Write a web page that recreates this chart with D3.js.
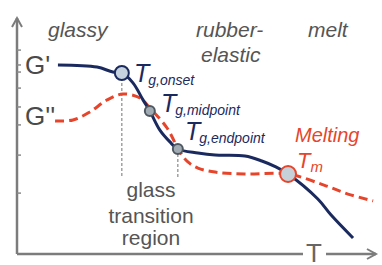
<!DOCTYPE html>
<html>
<head>
<meta charset="utf-8">
<script src="https://cdn.jsdelivr.net/npm/d3@7"></script>
<style>
  body { margin: 0; background: #fff; }
  svg { display: block; font-family: "Liberation Sans", Arial, sans-serif; }
</style>
</head>
<body>
<div id="chart"></div>
<script>
(() => {
    // storage modulus G' (temperature, log modulus), arbitrary units 0-100
    const gPrimeT = [11.4, 22.3, 26.7, 29.2, 32.3, 35.1, 37.0, 39.8, 42.6, 44.8, 50.4, 55.2, 63.5, 68.2, 72.1, 75.5, 83.8, 87.5, 93.6];
    const gPrimeV = [80.1, 79.2, 77.1, 76.7, 72.5, 65.3, 60.6, 52.5, 47.5, 44.5, 42.8, 41.9, 41.5, 39.4, 36.9, 33.9, 23.3, 16.5, 6.8];
    // loss modulus G''
    const gDblT = [10.6, 15.6, 20.3, 25.1, 29.5, 34.3, 37.0, 41.8, 45.4, 47.6, 50.4, 55.2, 63.5, 75.5, 85.5, 92.2, 99.2];
    const gDblV = [56.4, 56.8, 60.2, 65.3, 67.8, 66.1, 61.9, 53.4, 43.2, 39.0, 36.4, 34.7, 33.9, 33.9, 29.2, 25.4, 22.5];
    // characteristic points
    const markNames = ["onset", "midpoint", "endpoint", "m"];
    const markT = [29.2, 37.0, 44.8, 75.5];
    const markV = [76.7, 60.6, 44.5, 33.9];
    // y axis tick marks
    const yTicks = [86.4, 80.1, 77.1, 70.3, 62.3, 54.7, 41.9, 25.8];
    const regions = ["glassy", "rubber-", "elastic", "melt"];

    const width = 382;
    const height = 265;
    const navy = "#1b2a5e";
    const red = "#e6452b";
    const grey = "#7c7c7c";

    const svg = d3.select("#chart").append("svg")
        .attr("width", width)
        .attr("height", height);

    const x = d3.scaleLinear().domain([0, 100]).range([17, 376]);
    const y = d3.scaleLinear().domain([0, 100]).range([254, 18]);

    /******************** axes ********************/
    svg.append("line")
        .attr("x1", x(0)).attr("y1", y(0))
        .attr("x2", x(0)).attr("y2", y(100))
        .attr("stroke", grey).attr("stroke-width", 2.5);
    svg.append("path")
        .attr("d", `M${x(0) - 5},${y(100) + 9}L${x(0)},${y(100)}L${x(0) + 5},${y(100) + 9}`)
        .attr("fill", "none").attr("stroke", grey).attr("stroke-width", 2);

    svg.append("line")
        .attr("x1", x(0)).attr("y1", y(0))
        .attr("x2", x(100)).attr("y2", y(0))
        .attr("stroke", grey).attr("stroke-width", 2.5);
    svg.append("path")
        .attr("d", `M${x(100) - 9},${y(0) - 5}L${x(100)},${y(0)}L${x(100) - 9},${y(0) + 5}`)
        .attr("fill", "none").attr("stroke", grey).attr("stroke-width", 2);

    svg.selectAll(".ytick")
        .data(yTicks)
        .join("line")
        .attr("class", "ytick")
        .attr("x1", x(0)).attr("x2", x(0) + 4)
        .attr("y1", d => y(d)).attr("y2", d => y(d))
        .attr("stroke", "#8a8a8a").attr("stroke-width", 1.5);

    // T label with gap in the axis
    svg.append("rect")
        .attr("x", 303).attr("y", y(0) - 4)
        .attr("width", 23).attr("height", 8)
        .attr("fill", "#fff");
    svg.append("text")
        .attr("x", 314).attr("y", 262)
        .attr("text-anchor", "middle")
        .attr("font-size", 26)
        .attr("fill", "#666")
        .text("T");

    /******************** region labels ********************/
    const regionPos = [[48, 37], [196, 37], [201, 62], [308, 37]];
    svg.selectAll(".region")
        .data(regions)
        .join("text")
        .attr("class", "region")
        .attr("x", (d, i) => regionPos[i][0])
        .attr("y", (d, i) => regionPos[i][1])
        .attr("font-size", 21)
        .attr("font-style", "italic")
        .attr("fill", "#555")
        .text(d => d);

    svg.append("text").attr("x", 25).attr("y", 74)
        .attr("font-size", 26).attr("fill", "#4a4a4a").text("G'");
    svg.append("text").attr("x", 25).attr("y", 125)
        .attr("font-size", 26).attr("fill", "#4a4a4a").text("G''");

    // glass transition region
    const gtr = svg.append("text")
        .attr("text-anchor", "middle")
        .attr("font-size", 21)
        .attr("fill", "#555");
    ["glass", "transition", "region"].forEach((t, i) => {
        gtr.append("tspan")
            .attr("x", 151)
            .attr("y", [197, 223, 245][i])
            .text(t);
    });

    /******************** dotted guide lines ********************/
    [[0, 32.6], [2, 32.6]].forEach(([i, bottom]) => {
        svg.append("line")
            .attr("x1", x(markT[i])).attr("x2", x(markT[i]))
            .attr("y1", y(markV[i]) + 5).attr("y2", y(bottom))
            .attr("stroke", "#8a8a8a")
            .attr("stroke-width", 1.2)
            .attr("stroke-dasharray", "3,2");
    });

    /******************** curves ********************/
    const line = d3.line()
        .x(d => x(d[0]))
        .y(d => y(d[1]))
        .curve(d3.curveCatmullRom.alpha(0.5));

    svg.append("path")
        .datum(d3.zip(gDblT, gDblV))
        .attr("d", line)
        .attr("fill", "none")
        .attr("stroke", red)
        .attr("stroke-width", 3)
        .attr("stroke-dasharray", "9,5");

    svg.append("path")
        .datum(d3.zip(gPrimeT, gPrimeV))
        .attr("d", line)
        .attr("fill", "none")
        .attr("stroke", navy)
        .attr("stroke-width", 3);

    /******************** markers ********************/
    const markR = [7, 5, 5, 8];
    const markFill = ["#c6d3df", "#a1abb4", "#a1abb4", "#c6d0d9"];
    const markStroke = [navy, "#4f5860", "#4f5860", red];
    svg.selectAll(".mark")
        .data(markNames)
        .join("circle")
        .attr("class", "mark")
        .attr("cx", (d, i) => x(markT[i]))
        .attr("cy", (d, i) => y(markV[i]))
        .attr("r", (d, i) => markR[i])
        .attr("fill", (d, i) => markFill[i])
        .attr("stroke", (d, i) => markStroke[i])
        .attr("stroke-width", 2);

    // T labels
    const tPos = [[134, 82], [161, 112], [185, 140], [297, 168]];
    markNames.forEach((name, i) => {
        const isM = name === "m";
        const t = svg.append("text")
            .attr("x", tPos[i][0])
            .attr("y", tPos[i][1])
            .attr("font-style", "italic")
            .attr("fill", isM ? red : navy);
        t.append("tspan")
            .attr("font-size", isM ? 22 : 25)
            .text("T");
        t.append("tspan")
            .attr("font-size", isM ? 15 : 14)
            .attr("dy", isM ? 4 : 3)
            .attr("dx", isM ? 0 : -1)
            .text(isM ? "m" : "g," + name);
    });

    svg.append("text")
        .attr("x", 295).attr("y", 142)
        .attr("font-size", 20)
        .attr("font-style", "italic")
        .attr("fill", red)
        .text("Melting");
})()
</script>
</body>
</html>
